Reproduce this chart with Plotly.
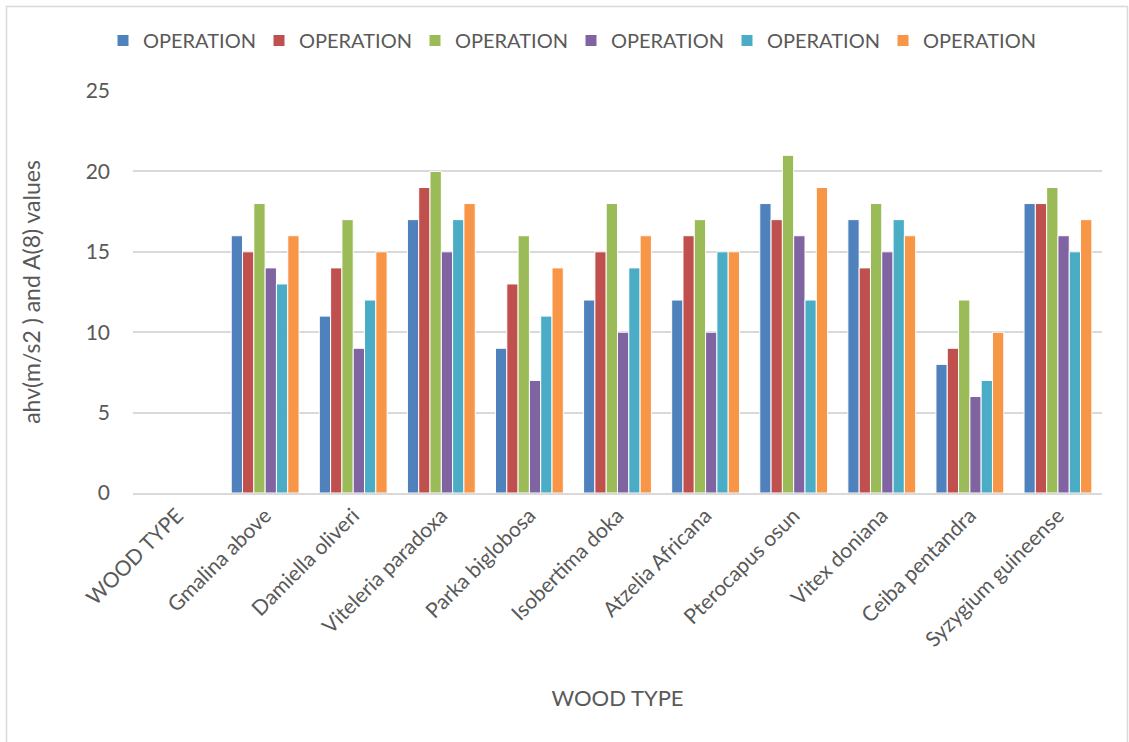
import plotly.graph_objects as go

categories = ["WOOD TYPE", "Gmalina above", "Damiella oliveri", "Viteleria paradoxa",
              "Parka biglobosa", "Isobertima doka", "Atzelia Africana", "Pterocapus osun",
              "Vitex doniana", "Ceiba pentandra", "Syzygium guineense"]

series_names = ["OPERATION"] * 6

s1 = [None, 16, 11, 17, 9, 12, 12, 18, 17, 8, 18]
s2 = [None, 15, 14, 19, 13, 15, 16, 17, 14, 9, 18]
s3 = [None, 18, 17, 20, 16, 18, 17, 21, 18, 12, 19]
s4 = [None, 14, 9, 15, 7, 10, 10, 16, 15, 6, 16]
s5 = [None, 13, 12, 17, 11, 14, 15, 12, 17, 7, 15]
s6 = [None, 16, 15, 18, 14, 16, 15, 19, 16, 10, 17]

colors = ["#4F81BD", "#C0504D", "#9BBB59", "#8064A2", "#4BACC6", "#F79646"]

fig = go.Figure()
for name, vals, col in zip(series_names, [s1, s2, s3, s4, s5, s6], colors):
    fig.add_trace(go.Bar(x=categories, y=vals, name=name,
                         marker=dict(color=col, line=dict(color="white", width=1))))

W, H = 1129, 742
L, R, T, B = 133, 27, 91, 249
pw = W - L - R
ph = H - T - B

def px_x(p):
    return (p - L) / pw

def px_y(p):
    return (H - B - p) / ph

fig.update_layout(
    width=W, height=H,
    margin=dict(l=L, r=R, t=T, b=B, pad=0),
    paper_bgcolor="white", plot_bgcolor="white",
    font=dict(family="Lato, Carlito, sans-serif", color="#595959", size=20),
    barmode="group", bargap=0.23, bargroupgap=0,
    showlegend=True,
    legend=dict(orientation="h", x=px_x(103), y=px_y(60), xanchor="left", yanchor="bottom",
                font=dict(size=20, color="#595959"),
                entrywidth=111, entrywidthmode="pixels",
                bgcolor="rgba(0,0,0,0)", traceorder="normal"),
    xaxis=dict(showgrid=False, showline=True, linecolor="#d9d9d9", linewidth=2,
               ticks="", tickangle=-45, tickfont=dict(size=21, color="#595959"),
               title=dict(text="WOOD TYPE", font=dict(size=22, color="#595959"), standoff=40),
               fixedrange=True),
    yaxis=dict(range=[0, 25], dtick=5, showgrid=True, gridcolor="#d9d9d9", gridwidth=1.5,
               zeroline=False, showline=False, ticks="", ticklabelstandoff=22,
               tickfont=dict(size=21, color="#595959"),
               title=dict(text="ahv(m/s2 ) and A(8) values", font=dict(size=23, color="#595959"),
                          standoff=38),
               fixedrange=True),
    shapes=[dict(type="rect", xref="paper", yref="paper",
                 x0=px_x(6.5), x1=px_x(1127.5), y0=px_y(780), y1=px_y(6.5),
                 line=dict(color="#d9d9d9", width=1.5), fillcolor="rgba(0,0,0,0)", layer="below")],
)

fig.write_html("out.html")
